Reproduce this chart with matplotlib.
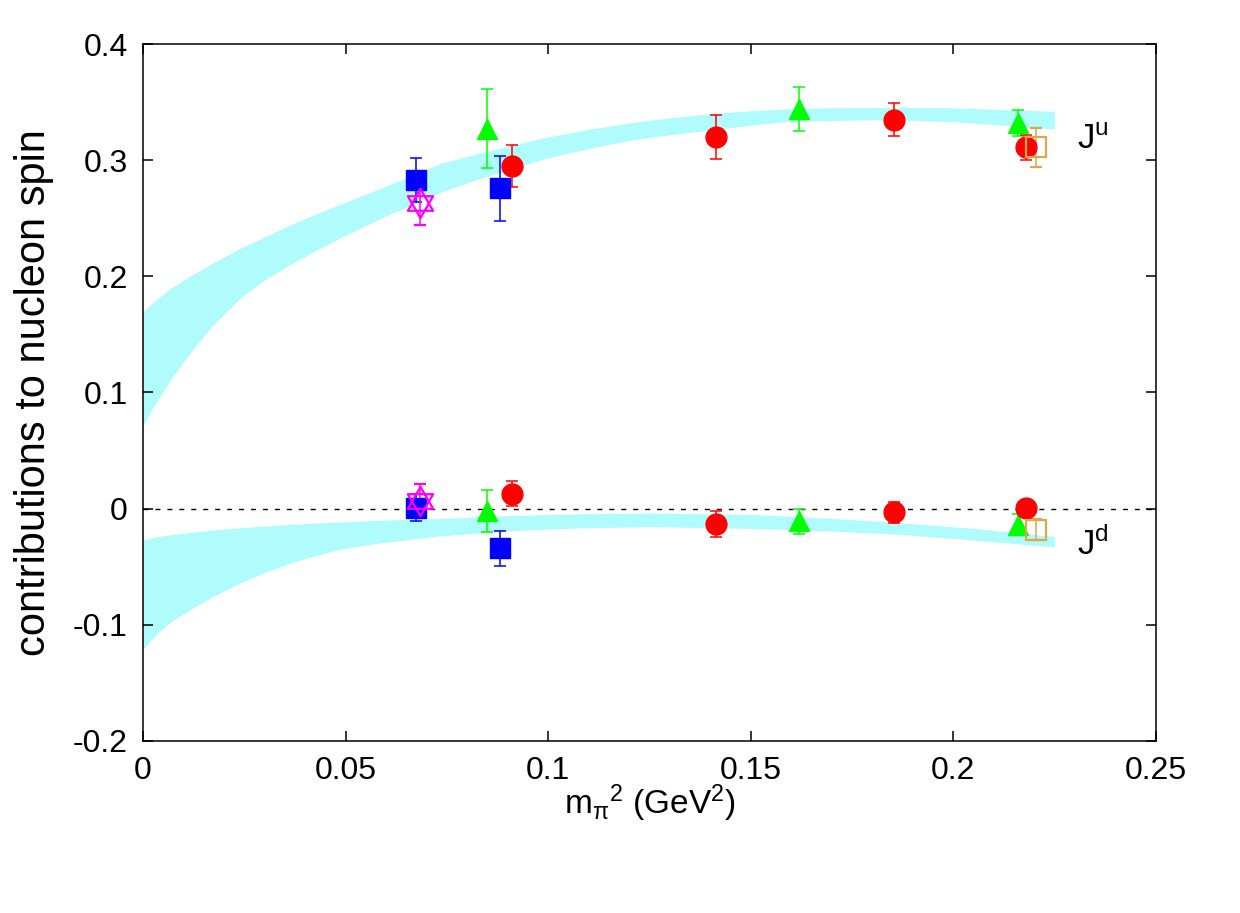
"""Nucleon spin contributions J^u, J^d vs m_pi^2 with chiral-fit bands."""
import numpy as np
import matplotlib
matplotlib.use("Agg")
import matplotlib.pyplot as plt
from matplotlib.path import Path
from matplotlib.ticker import FuncFormatter

plt.rcParams["font.family"] = ["Liberation Sans", "DejaVu Sans"]
plt.rcParams["mathtext.fontset"] = "custom"
plt.rcParams["mathtext.rm"] = "Liberation Sans"
plt.rcParams["mathtext.it"] = "Liberation Sans"
plt.rcParams["mathtext.default"] = "regular"

# ---- data ----
# blue filled squares
sq_x = [0.0673, 0.0880]
sq_ju = [0.283, 0.276]
sq_ju_err = [0.019, 0.028]
sq_jd = [0.001, -0.034]
sq_jd_err = [0.012, 0.015]

# magenta open hexagrams
star_x = [0.0684]
star_ju = [0.263]
star_ju_err = [0.019]
star_jd = [0.007]
star_jd_err = [0.014]

# green triangles
tri_x = [0.0848, 0.1620, 0.2160]
tri_ju = [0.327, 0.344, 0.332]
tri_ju_err = [0.034, 0.019, 0.011]
tri_jd = [-0.002, -0.011, -0.014]
tri_jd_err = [0.018, 0.011, 0.009]

# red circles
circ_x = [0.0911, 0.1414, 0.1854, 0.2178]
circ_ju = [0.295, 0.320, 0.335, 0.311]
circ_ju_err = [0.018, 0.019, 0.014, 0.011]
circ_jd = [0.013, -0.013, -0.003, 0.001]
circ_jd_err = [0.011, 0.011, 0.009, 0.005]

# orange open squares
osq_x = [0.2204]
osq_ju = [0.311]
osq_ju_err = [0.017]
osq_jd = [-0.018]
osq_jd_err = [0.009]

# fit bands (lower / upper edge)
band_x = [0.0, 0.0018, 0.0037, 0.0070, 0.0116, 0.0170, 0.0239, 0.0300,
          0.0362, 0.0420, 0.0486, 0.0600, 0.0732, 0.0820, 0.0905, 0.100,
          0.110, 0.120, 0.130, 0.140, 0.1497, 0.158, 0.167, 0.184,
          0.2007, 0.213, 0.2249]
ju_lo = [0.071, 0.083, 0.094, 0.112, 0.134, 0.157, 0.181, 0.197,
         0.210, 0.221, 0.233, 0.252, 0.272, 0.283, 0.292, 0.302,
         0.310, 0.317, 0.322, 0.326, 0.330, 0.333, 0.334, 0.335,
         0.333, 0.330, 0.327]
ju_hi = [0.169, 0.1755, 0.181, 0.190, 0.200, 0.211, 0.224, 0.234,
         0.244, 0.2525, 0.262, 0.2775, 0.297, 0.305, 0.3125, 0.320,
         0.3265, 0.332, 0.3365, 0.340, 0.3425, 0.344, 0.345, 0.3455,
         0.345, 0.3435, 0.342]

bandd_x = [0.0, 0.0018, 0.0037, 0.0070, 0.0116, 0.0170, 0.0239, 0.0300,
           0.0362, 0.0420, 0.0486, 0.0584, 0.0732, 0.090, 0.1077, 0.125,
           0.150, 0.168, 0.1866, 0.205, 0.2249]
jd_lo = [-0.121, -0.114, -0.107, -0.097, -0.087, -0.076, -0.064, -0.055,
         -0.047, -0.041, -0.035, -0.0295, -0.0235, -0.019, -0.0165, -0.0155,
         -0.017, -0.019, -0.022, -0.027, -0.033]
jd_hi = [-0.027, -0.0255, -0.024, -0.0225, -0.0205, -0.0185, -0.0165, -0.015,
         -0.0137, -0.0125, -0.0115, -0.010, -0.0085, -0.006, -0.0045, -0.0038,
         -0.005, -0.008, -0.012, -0.017, -0.024]

BAND = "#b0fcfc"

# hexagram marker: up + down triangles
ang_up = np.deg2rad([90, 210, 330, 90])
ang_dn = np.deg2rad([270, 30, 150, 270])
verts = np.vstack([np.c_[np.cos(ang_up), np.sin(ang_up)],
                   np.c_[np.cos(ang_dn), np.sin(ang_dn)]])
codes = [Path.MOVETO, Path.LINETO, Path.LINETO, Path.CLOSEPOLY] * 2
HEX = Path(verts, codes)

fig = plt.figure(figsize=(12.4, 9.13), dpi=100)
ax = fig.add_axes([0.1153, 0.1884, 0.8170, 0.7634])

ax.fill_between(band_x, ju_lo, ju_hi, color=BAND, lw=0, zorder=1)
ax.fill_between(bandd_x, jd_lo, jd_hi, color=BAND, lw=0, zorder=1)
ax.plot([0, 0.25], [0, 0], color="black", lw=1.0, dashes=(3.6, 5), zorder=2)

eb = dict(ls="none", elinewidth=1.1, capsize=4, capthick=1.1, zorder=3)

for y, e in [(sq_ju, sq_ju_err), (sq_jd, sq_jd_err)]:
    ax.errorbar(sq_x, y, yerr=e, marker="s", ms=14.5, color="#0000ff", mec="#0000ff", **eb)
for y, e in [(star_ju, star_ju_err), (star_jd, star_jd_err)]:
    ax.errorbar(star_x, y, yerr=e, marker=HEX, ms=21, color="#ff00ff",
                mfc="none", mec="#ff00ff", mew=1.6, **eb)
for y, e in [(tri_ju, tri_ju_err), (tri_jd, tri_jd_err)]:
    ax.errorbar(tri_x, y, yerr=e, marker="^", ms=15, color="#00ff00", mec="#00ff00", **eb)
for y, e in [(circ_ju, circ_ju_err), (circ_jd, circ_jd_err)]:
    ax.errorbar(circ_x, y, yerr=e, marker="o", ms=15, color="#ff0000", mec="#ff0000", **eb)
for y, e in [(osq_ju, osq_ju_err), (osq_jd, osq_jd_err)]:
    ax.errorbar(osq_x, y, yerr=e, marker="s", ms=14.5, color="#daa84e",
                mfc="none", mec="#daa84e", mew=1.6, **eb)

ax.text(0.2305, 0.318, "J$^u$", fontsize=25, va="center", ha="left")
ax.text(0.2305, -0.031, "J$^d$", fontsize=25, va="center", ha="left")

ax.set_xlim(0, 0.25)
ax.set_ylim(-0.2, 0.4)
ax.set_xticks([0, 0.05, 0.1, 0.15, 0.2, 0.25])
ax.set_yticks([-0.2, -0.1, 0, 0.1, 0.2, 0.3, 0.4])
fmt = FuncFormatter(lambda v, _: f"{v:g}")
ax.xaxis.set_major_formatter(fmt)
ax.yaxis.set_major_formatter(fmt)
ax.tick_params(direction="in", length=7, width=1.1, labelsize=23, pad=11,
               top=True, right=True)
for s in ax.spines.values():
    s.set_linewidth(1.1)

ax.set_ylabel("contributions to nucleon spin", fontsize=30)
ax.yaxis.set_label_coords(-0.088, 0.5)
ax.set_xlabel(r"m$_\pi$$^2$ (GeV$^2$)", fontsize=24)
ax.xaxis.set_label_coords(0.5, -0.060)

fig.savefig("out.png", dpi=100)
